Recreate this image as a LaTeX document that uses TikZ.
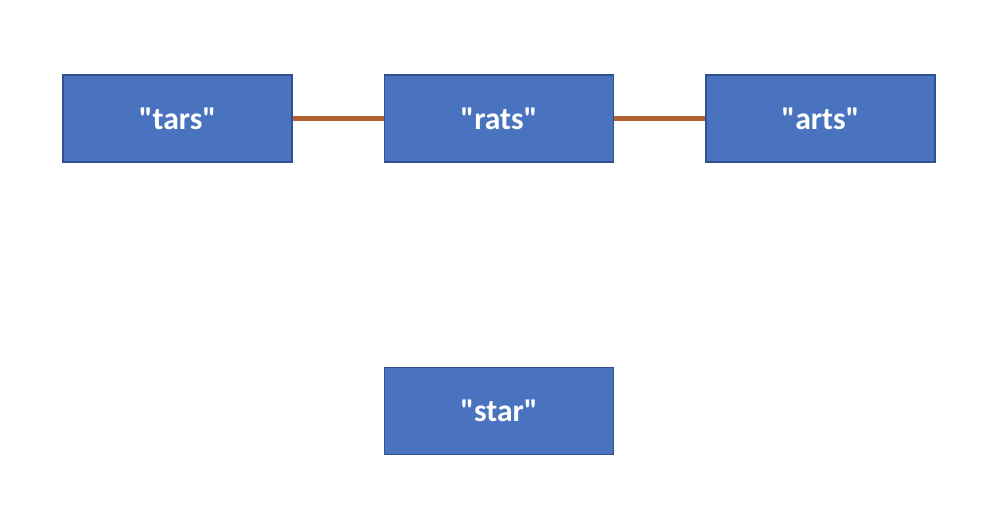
\documentclass[tikz,border=0pt]{standalone}
\usepackage{fontspec}
\setmainfont{Carlito}[Ligatures=TeXOff]
\usepackage{tikz}
\usetikzlibrary{positioning}
\definecolor{wordfill}{HTML}{4A73BF}
\definecolor{wordedge}{HTML}{2F528F}
\definecolor{linkcol}{HTML}{B06234}

\begin{document}
\begin{tikzpicture}[%
		x=0.02cm,y=-0.02cm,
		word/.style={%
			draw=wordedge,%
			line width=0.8pt,%
			fill=wordfill,%
			text=white,%
			font=\fontsize{18}{22}\selectfont\bfseries,%
			minimum width=4.58cm,%
			minimum height=1.74cm,%
			inner sep=0pt},%
		link/.style={linkcol,line width=2.6pt}
		]

		\useasboundingbox (0,0) rectangle (996,510);
		% top row
		\node[word] (tars) at (177.5,118.5) {"tars"};
		\node[word] (rats) at (499,118.5) {"rats"};
		\node[word] (arts) at (820.5,118.5) {"arts"};
		% lone word
		\node[word] (star) at (499,411) {"star"};
		% links
		\draw[link] (tars) -- (rats);
		\draw[link] (rats) -- (arts);
	\end{tikzpicture}
\end{document}
